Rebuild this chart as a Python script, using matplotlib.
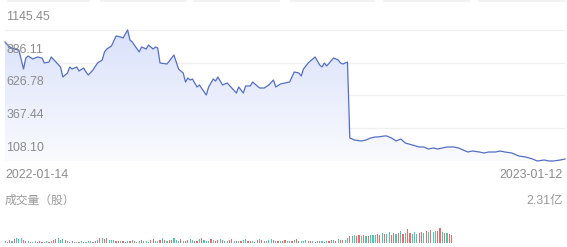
import matplotlib.pyplot as plt
import matplotlib.patches as patches
import numpy as np

plt.rcParams['font.family'] = ['Liberation Sans', 'Noto Sans CJK SC', 'DejaVu Sans']

# price (trading day index, close)
days = [0, 2, 4, 6, 8, 9, 10, 12, 14, 16, 17, 19, 20, 22, 24, 25, 27, 28, 29, 31,
        32, 34, 35, 36, 38, 40, 42, 43, 44, 46, 48, 50, 51, 53, 54, 55, 58, 59, 61, 62,
        64, 65, 66, 67, 70, 73, 75, 77, 78, 79, 80, 81, 83, 84, 87, 88, 90, 91, 92, 94,
        96, 98, 100, 101, 103, 104, 106, 107, 110, 112, 114, 116, 117, 119, 121, 123, 125, 127, 128, 129,
        131, 133, 134, 136, 137, 138, 139, 142, 144, 145, 146, 148, 149, 151, 154, 156, 158, 160, 161, 164,
        165, 167, 169, 171, 173, 176, 179, 181, 183, 185, 187, 189, 191, 194, 196, 198, 200, 202, 205, 207,
        209, 212, 214, 216, 219, 222, 225, 228, 230, 233, 235, 237, 240, 242]
price = [1050.4, 1010.9, 995.0, 987.1, 836.7, 923.8, 939.6, 915.8, 931.7, 923.8, 884.2, 892.1, 931.7, 892.1, 852.5, 773.3, 805.0, 852.5, 836.7, 852.5,
         820.8, 844.6, 812.9, 789.1, 828.7, 884.2, 907.9, 971.3, 995.0, 1018.8, 1098.0, 1090.1, 1082.1, 1145.5, 1066.3, 1050.4, 971.3, 1010.9, 995.0, 1026.7,
         995.0, 1010.9, 1002.9, 884.2, 876.2, 947.5, 836.7, 805.0, 733.7, 765.4, 749.5, 757.5, 694.1, 709.9, 630.8, 694.1, 757.5, 741.6, 773.3, 709.9,
         725.8, 686.2, 646.6, 694.1, 646.6, 702.0, 702.0, 733.7, 686.2, 686.2, 709.9, 749.5, 694.1, 717.9, 725.8, 733.7, 812.9, 805.0, 781.2, 836.7,
         884.2, 915.8, 931.7, 868.3, 852.5, 884.2, 860.4, 923.8, 907.9, 884.2, 876.2, 892.1, 290.2, 274.4, 266.5, 274.4, 290.2, 298.2, 298.2, 306.1,
         306.1, 290.2, 266.5, 282.3, 250.6, 234.8, 219.0, 219.0, 203.1, 211.0, 203.1, 211.0, 219.0, 219.0, 211.0, 195.2, 179.4, 187.3, 179.4, 171.4,
         179.4, 179.4, 187.3, 179.4, 171.4, 147.7, 139.8, 123.9, 108.1, 116.0, 108.1, 108.1, 116.0, 123.9]

price_ticks = [1145.45, 886.11, 626.78, 367.44, 108.10]
date_start = '2022-01-14'
date_end = '2023-01-12'
vol_label = '成交量（股）'
vol_max_label = '2.31亿'

# volume in millions of shares, one bar per trading day
volume = [30, 22, 40, 35,
          65, 75, 55, 70, 45, 35, 25,
          22, 18, 25, 20, 30, 22, 18, 25, 22, 35,
          45, 65, 75, 52, 68, 40, 30, 22, 25, 20,
          22, 18, 25, 22, 20, 30, 25, 22, 35, 45,
          70, 82, 60, 75, 52, 45, 40, 35, 25, 38,
          30, 22, 35, 25, 40, 30, 22, 25, 48, 38,
          30, 22, 45, 55, 35, 25, 52, 70, 45, 35,
          40, 52, 75, 48, 38, 62, 30, 25, 45, 68,
          52, 38, 35, 60, 70, 40, 30, 38, 62, 45,
          35, 52, 68, 40, 30, 25, 45, 60, 38, 30,
          25, 35, 48, 62, 38, 30, 25, 22, 40, 55,
          45, 35, 30, 52, 68, 40, 35, 30, 25, 38,
          48, 35, 30, 25, 45, 60, 38, 30, 25, 40,
          35, 30, 25, 22, 35, 30, 25, 22, 30, 25,
          45, 40, 35, 60, 50, 45, 40, 70,
          110, 115, 120, 105, 118, 112, 125, 108, 115, 130, 120, 125,
          145, 125, 150, 135, 140, 170, 130, 155, 140, 150, 185, 145, 160, 215,
          150, 140, 165, 135,
          160, 175, 150, 185, 165, 195, 170, 180, 190, 231,
          175, 160, 150, 140, 125]
vol_dir = ''.join(['grrgrgggrr', 'grggrrrggr', 'grrgggrgrr', 'ggrgrgggrr', 'grgrrgggrr',
                   'grggrgrrgr', 'gggrrggrgr', 'grrgggrgrr', 'ggrrgrgggr', 'grrgrggrrg',
                   'rgrggrrggr', 'grrgggrgrg', 'rrggrgrrgg', 'grrgrgrggg', 'rrgrgrrggr',
                   'ggrrgrgrgg', 'grrgrggrrg', 'rgrgrrgggr', 'rgrgrggrrg', 'rgrr'])

W, H = 567, 247
fig = plt.figure(figsize=(W / 100, H / 100), dpi=100)

# cut-off tab buttons at the very top
for x0, x1 in [(7, 90), (100, 187), (193, 280), (290, 375), (383, 470), (478, 565)]:
    fig.add_artist(patches.Rectangle((x0 / W, 1 - 2.5 / H), (x1 - x0) / W, 2.5 / H,
                                     transform=fig.transFigure, color='#f3f3f3', lw=0))

ax = fig.add_axes([5 / W, (H - 161) / H, 560 / W, 131 / H])
ax.set_xlim(0, 242)
ax.set_ylim(price_ticks[-1], price_ticks[0])
ax.axis('off')

for v in price_ticks:
    ax.axhline(v, color='#f0f0f0', lw=1, zorder=0)
    ax.annotate(f'{v:.2f}', xy=(0, v), xycoords=('axes fraction', 'data'),
                xytext=(1, 13 * 0.72), textcoords='offset points',
                va='center', ha='left', fontsize=8.9, color='#8c8c8c', zorder=5)

# gradient under the line
grad = np.linspace(0, 1, 256).reshape(-1, 1)
cmap = plt.matplotlib.colors.LinearSegmentedColormap.from_list('fill', ['#fafbff', '#dae1fa'])
im = ax.imshow(grad, extent=[0, 242, price_ticks[-1], price_ticks[0]], origin='lower',
               aspect='auto', cmap=cmap, zorder=1)
poly = ax.fill_between(days, price, price_ticks[-1], color='none', lw=0)
im.set_clip_path(poly.get_paths()[0], transform=ax.transData)

ax.plot(days, price, color='#5470c6', lw=0.9, zorder=3, clip_on=False)

fig.text(5 / W, 1 - 175 / H, date_start, fontsize=8.9, color='#8c8c8c', va='center', ha='left')
fig.text(563 / W, 1 - 175 / H, date_end, fontsize=8.9, color='#8c8c8c', va='center', ha='right')
fig.text(5 / W, 1 - 201 / H, vol_label, fontsize=8.5, color='#999999', va='center', ha='left')
fig.text(563 / W, 1 - 201 / H, vol_max_label, fontsize=8.9, color='#999999', va='center', ha='right')

axv = fig.add_axes([5 / W, 4 / H, 560 / W, 15 / H])
axv.set_xlim(0, 242)
axv.set_ylim(0, 231)
axv.axis('off')
colors = ['#ef6a6a' if d == 'r' else '#3fcfae' for d in vol_dir]
n = min(len(volume), len(colors))
axv.bar(range(n), volume[:n], width=0.5, color=colors[:n], lw=0)

plt.savefig('out.png', dpi=100)
